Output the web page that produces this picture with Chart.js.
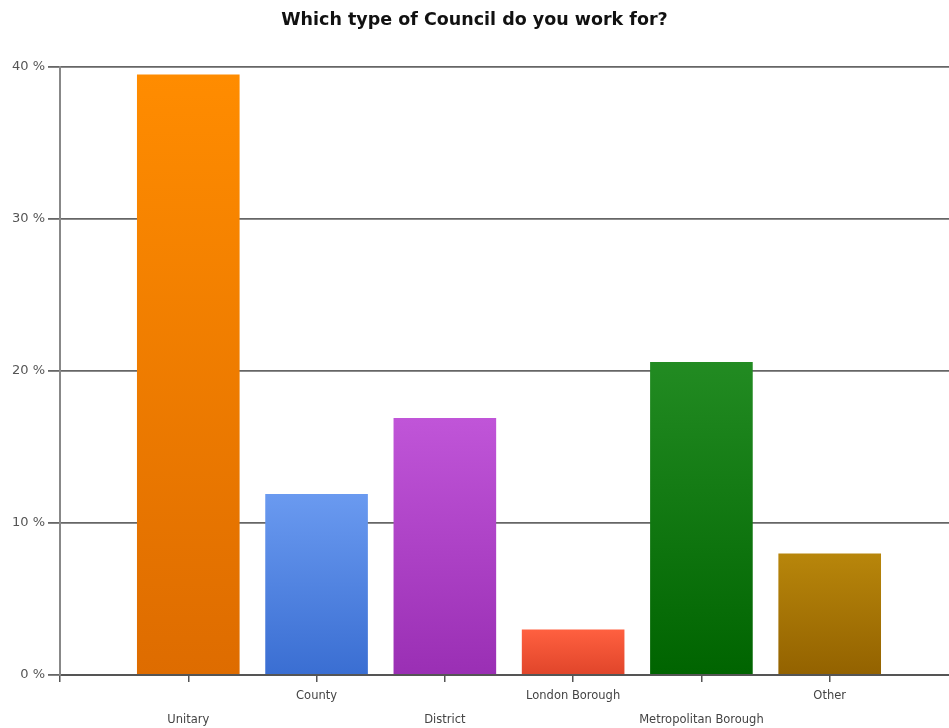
<!DOCTYPE html>
<html>
<head>
<meta charset="utf-8">
<script src="https://cdn.jsdelivr.net/npm/chart.js@4/dist/chart.umd.min.js"></script>
<style>
  html, body { margin: 0; padding: 0; background: #fff; overflow: hidden; }
  #wrap { width: 949px; height: 728px; position: relative; }
</style>
</head>
<body>
<div id="wrap"><canvas id="c" width="949" height="728"></canvas></div>
<script>
// Survey answers: share of respondents by council type (%)
const categories = ['Unitary', 'County', 'District', 'London Borough', 'Metropolitan Borough', 'Other'];
const shares = [39.5, 11.9, 16.9, 3.0, 20.6, 8.0];
const yTicks = [0, 10, 20, 30, 40];

// Vertical gradient colours for each bar (top, bottom)
const topColors = ['#ff8c00', '#6a9af0', '#c055d8', '#ff6040', '#228b22', '#b8860b'];
const bottomColors = ['#de6c00', '#3a6ed2', '#9a2fb4', '#e0452a', '#006400', '#936200'];

const points = categories.map((name, i) => ({ x: i + 1, y: shares[i] }));

function barFill(ctx) {
  const chart = ctx.chart;
  const i = ctx.dataIndex;
  if (!chart.chartArea || ctx.type !== 'data') return topColors[i];
  const yScale = chart.scales.y;
  const top = yScale.getPixelForValue(ctx.parsed.y);
  const bottom = yScale.getPixelForValue(0);
  const g = chart.ctx.createLinearGradient(0, top, 0, bottom);
  g.addColorStop(0, topColors[i]);
  g.addColorStop(1, bottomColors[i]);
  return g;
}

new Chart(document.getElementById('c'), {
  type: 'bar',
  data: {
    datasets: [{
      data: points,
      backgroundColor: barFill,
      borderWidth: 0,
      barPercentage: 1,
      categoryPercentage: 0.8
    }]
  },
  options: {
    responsive: false,
    animation: false,
    layout: { padding: 0 },
    plugins: {
      legend: { display: false },
      tooltip: { enabled: false },
      title: {
        display: true,
        text: 'Which type of Council do you work for?',
        color: '#111',
        font: { family: 'DejaVu Sans', size: 17.5, weight: 'bold' },
        padding: { top: 10, bottom: 36 }
      }
    },
    scales: {
      x: {
        type: 'linear',
        min: 0,
        max: 6.93,
        offset: false,
        afterFit: s => { s.height = 53; },
        border: { display: true, color: '#555', width: 2 },
        grid: { offset: false, drawOnChartArea: false, drawTicks: true, tickLength: 7, color: '#555', lineWidth: 1.5 },
        ticks: {
          stepSize: 1,
          includeBounds: false,
          autoSkip: false,
          maxRotation: 0,
          padding: 2,
          color: '#444',
          font: { family: 'DejaVu Sans', size: 11.5, lineHeight: 2.1 },
          callback: v => {
            const name = categories[v - 1];
            if (!name) return '';
            return (v - 1) % 2 === 0 ? ['', name] : name;
          }
        }
      },
      y: {
        min: 0,
        max: 40,
        afterFit: s => { s.width = 60; },
        afterBuildTicks: s => { s.ticks = yTicks.map(v => ({ value: v })); },
        border: { display: true, color: '#888', width: 2 },
        grid: { color: '#666', lineWidth: 1.8, tickLength: 12 },
        ticks: {
          padding: 3,
          color: '#555',
          font: { family: 'DejaVu Sans', size: 13 },
          callback: v => v + ' %'
        }
      }
    }
  }
});
</script>
</body>
</html>
